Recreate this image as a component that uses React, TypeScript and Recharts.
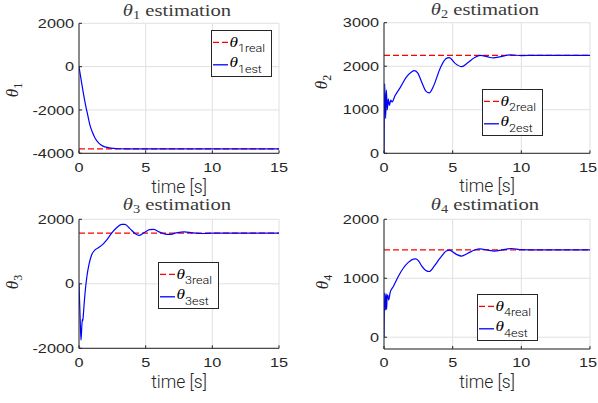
import React from 'react';
import { LineChart, Line, XAxis, YAxis, CartesianGrid, Legend, Customized } from 'recharts';

// ---------- data ----------
const xTicks = [0, 5, 10, 15];

const t1 = [0, 0.1, 0.2, 0.3, 0.4, 0.5, 0.6, 0.8, 1.0, 1.2, 1.5, 1.8, 2.2, 2.6, 3.0, 3.5, 4.0, 5, 15];
const est1 = [0, -380, -760, -1130, -1480, -1800, -2080, -2650, -3020, -3290, -3540, -3670, -3740, -3775, -3790, -3797, -3800, -3800, -3800];
const real1 = -3800;
const yTicks1 = [-4000, -2000, 0, 2000];

const t2 = [0, 0.05, 0.12, 0.17, 0.24, 0.31, 0.39, 0.49, 0.58, 0.8, 1.2, 1.6, 2.0, 2.2, 2.45, 2.75, 3.05, 3.3, 3.6, 4.1, 4.5, 4.75, 5.2, 5.65, 6.1, 6.6, 7.0, 7.5, 7.95, 8.5, 9.2, 10, 11, 15];
const est2 = [0, 1600, 800, 1450, 1000, 1250, 1100, 1220, 1180, 1320, 1520, 1740, 1870, 1900, 1850, 1630, 1430, 1390, 1540, 1960, 2170, 2200, 2060, 1990, 2080, 2200, 2250, 2220, 2190, 2220, 2260, 2245, 2250, 2250];
const real2 = 2250;
const yTicks2 = [0, 1000, 2000, 3000];

const t3 = [0, 0.08, 0.15, 0.2, 0.25, 0.28, 0.32, 0.38, 0.45, 0.6, 0.75, 0.95, 1.2, 1.5, 1.8, 2.1, 2.45, 2.8, 3.2, 3.45, 3.8, 4.2, 4.5, 4.85, 5.3, 5.6, 6.0, 6.4, 6.8, 7.3, 7.9, 8.5, 9.2, 10, 15];
const est3 = [0, -1000, -1750, -1400, -1100, -1150, -1000, -650, -300, 250, 600, 900, 1050, 1130, 1230, 1370, 1570, 1730, 1840, 1840, 1720, 1560, 1500, 1580, 1680, 1690, 1610, 1550, 1530, 1580, 1610, 1580, 1560, 1570, 1570];
const real3 = 1570;
const yTicks3 = [-2000, 0, 2000];

const t4 = [0, 0.05, 0.1, 0.15, 0.19, 0.23, 0.27, 0.34, 0.44, 0.68, 1.04, 1.4, 1.77, 2.14, 2.3, 2.5, 2.74, 3.1, 3.3, 3.64, 4.08, 4.56, 4.75, 5.24, 5.65, 6.07, 6.6, 7.0, 7.5, 8.05, 8.6, 9.27, 10, 11, 15];
const est4 = [0, 750, 460, 740, 470, 700, 720, 630, 750, 860, 1030, 1170, 1270, 1325, 1328, 1300, 1210, 1125, 1115, 1200, 1340, 1465, 1478, 1410, 1376, 1420, 1480, 1500, 1480, 1460, 1480, 1505, 1485, 1480, 1480];
const real4 = 1480;
const yTicks4 = [0, 1000, 2000];

// ---------- layout / style ----------
const W = 598;
const H = 403;
const TXT = '#262626';
const SANS = '"Liberation Sans", Arial, Helvetica, sans-serif';
const LIGHT_SANS = 'Roboto, "Liberation Sans", Arial, sans-serif';
const SERIF = '"Liberation Serif", "Times New Roman", serif';
const TICK_FS = 13;
const TICK_SX = 1.25;
const YW = 60;
const XH = 45;

function makeRows(t: number[], est: number[], real: number) {
  return t.map((tt, i) => ({ t: tt, est: est[i], real }));
}

const panels = [
  { idx: 1, rows: makeRows(t1, est1, real1), domain: [-4000, 2000], yTicks: yTicks1, plot: { x0: 79, x1: 279, y0: 23.3, y1: 153.3 }, ylab: { x: 12, y: 90 }, legend: { left: 210.7, top: 30 }, titleY: 15.5, xlabY: 192.5 },
  { idx: 2, rows: makeRows(t2, est2, real2), domain: [0, 3000], yTicks: yTicks2, plot: { x0: 384, x1: 590, y0: 22.7, y1: 153.3 }, ylab: { x: 321, y: 82 }, legend: { left: 482.3, top: 89.3 }, titleY: 15, xlabY: 192 },
  { idx: 3, rows: makeRows(t3, est3, real3), domain: [-2000, 2000], yTicks: yTicks3, plot: { x0: 79, x1: 279, y0: 219.3, y1: 348.3 }, ylab: { x: 12, y: 282 }, legend: { left: 157.7, top: 261.7 }, titleY: 210, xlabY: 387.5 },
  { idx: 4, rows: makeRows(t4, est4, real4), domain: [-200, 2000], yTicks: yTicks4, plot: { x0: 384, x1: 590, y0: 219.3, y1: 349 }, ylab: { x: 322, y: 282 }, legend: { left: 477, top: 294 }, titleY: 209.5, xlabY: 388 },
];

const XTick = (props: any) => {
  const { x, y, payload } = props;
  const half = (String(payload.value).length * 0.556 * TICK_FS * TICK_SX) / 2;
  const px = Math.min(x, W - 1 - half);
  return (
    <text transform={`translate(${px},${y}) scale(${TICK_SX},1)`} textAnchor="middle" dy="0.71em" fontSize={TICK_FS} fontWeight="normal" fill={TXT} fontFamily={SANS}>
      {payload.value}
    </text>
  );
};

const YTick = (props: any) => {
  const { x, y, payload } = props;
  return (
    <text transform={`translate(${x},${y}) scale(${TICK_SX},1)`} textAnchor="end" dy="0.355em" fontSize={TICK_FS} fontWeight="normal" fill={TXT} fontFamily={SANS}>
      {payload.value}
    </text>
  );
};

function LegendBox({ idx, payload }: { idx: number; payload: any[] }) {
  const items = [...(payload || [])].sort((a: any, b: any) => (a.value === 'real' ? 0 : 1) - (b.value === 'real' ? 0 : 1));
  return (
    <div style={{ width: 61, height: 47, boxSizing: 'border-box', border: `1px solid ${TXT}`, background: '#fff' }}>
      <svg width={59} height={45} style={{ display: 'block' }}>
        {items.map((e: any, i: number) => {
          const ly = i === 0 ? 11.3 : 33.8;
          const tb = i === 0 ? 15.5 : 36;
          const sb = i === 0 ? 20.5 : 41.5;
          const dash = e?.payload?.strokeDasharray;
          return (
            <g key={i}>
              <line x1={1} x2={16} y1={ly} y2={ly} stroke={e.color} strokeWidth={1.3} strokeDasharray={dash} />
              <text transform={`translate(17.5,${tb}) scale(1.15,1)`} fontSize={15} fontStyle="italic" fontWeight="normal" fontFamily={SERIF} fill="#000">θ</text>
              <text transform={`translate(26,${sb}) scale(1.2,1)`} fontSize={10.5} fontWeight={300} fontFamily={LIGHT_SANS} fill="#000">{`${idx}${e.value}`}</text>
            </g>
          );
        })}
      </svg>
    </div>
  );
}

function PanelTexts({ p }: { p: any }) {
  const cx = (p.plot.x0 + p.plot.x1) / 2;
  return (
    <g>
      <text transform={`translate(${cx - 2},${p.titleY}) scale(1.25,1)`} textAnchor="middle" fontSize={16.5} fontWeight="normal" fontFamily={SERIF} fill="#3a3a3a">
        <tspan fontStyle="italic">θ</tspan>
        <tspan fontSize={11.5} dy={3}>{p.idx}</tspan>
        <tspan dy={-3}> estimation</tspan>
      </text>
      <text x={cx} y={p.xlabY} textAnchor="middle" fontSize={17.5} fontWeight={300} fontFamily={LIGHT_SANS} fill={TXT}>
        time [s]
      </text>
      <text transform={`translate(${p.ylab.x},${p.ylab.y}) rotate(-90)`} textAnchor="middle" dy="0.35em" fontSize={17} fontWeight="normal" fontFamily={SERIF} fill={TXT}>
        <tspan fontStyle="italic">θ</tspan>
        <tspan fontSize={12} dy={4}>{p.idx}</tspan>
      </text>
    </g>
  );
}

function Panel({ p }: { p: any }) {
  const margin = {
    top: p.plot.y0,
    left: p.plot.x0 - YW,
    right: W - p.plot.x1,
    bottom: H - p.plot.y1 - XH,
  };
  return (
    <div style={{ position: 'absolute', left: 0, top: 0 }}>
      <LineChart width={W} height={H} data={p.rows} margin={margin}>
        <CartesianGrid stroke="#e0e0e0" strokeWidth={1} />
        <XAxis
          dataKey="t"
          type="number"
          domain={[0, 15]}
          ticks={xTicks}
          interval={0}
          height={XH}
          allowDataOverflow
          axisLine={{ stroke: TXT }}
          tickLine={{ stroke: TXT }}
          tickSize={-3}
          tickMargin={12}
          tick={<XTick />}
        />
        <YAxis
          type="number"
          domain={p.domain}
          ticks={p.yTicks}
          interval={0}
          width={YW}
          allowDataOverflow
          axisLine={{ stroke: TXT }}
          tickLine={{ stroke: TXT }}
          tickSize={-3}
          tickMargin={8}
          tick={<YTick />}
        />
        <Line dataKey="real" name="real" type="linear" stroke="#ff0000" strokeWidth={1.3} strokeDasharray="6 3" dot={false} activeDot={false} isAnimationActive={false} />
        <Line dataKey="est" name="est" type="monotone" stroke="#0000ff" strokeWidth={1.2} dot={false} activeDot={false} isAnimationActive={false} />
        <Customized component={<PanelTexts p={p} />} />
        <Legend
          layout="horizontal"
          verticalAlign="middle"
          align="center"
          itemSorter={(item: any) => (item.value === 'real' ? 0 : 1)}
          wrapperStyle={{ left: p.legend.left, top: p.legend.top, width: 61, height: 47 }}
          content={(props: any) => <LegendBox idx={p.idx} payload={props.payload} />}
        />
      </LineChart>
    </div>
  );
}

export default function App() {
  return (
    <div style={{ position: 'absolute', left: 0, top: 0, width: W, height: H, background: '#fff' }}>
      {panels.map((p) => (
        <Panel key={p.idx} p={p} />
      ))}
    </div>
  );
}
